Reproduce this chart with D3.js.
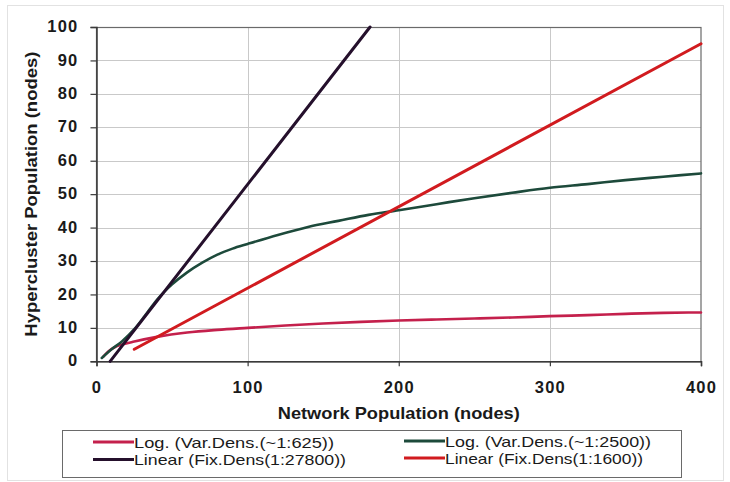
<!DOCTYPE html>
<html>
<head>
<meta charset="utf-8">
<script src="https://cdn.jsdelivr.net/npm/d3@7"></script>
<style>
  html, body { margin: 0; padding: 0; background: #ffffff; }
  svg { display: block; }
</style>
</head>
<body>
<svg id="chart" width="730" height="482"></svg>
<script>
// ---- data ----
const xTicks = [0, 100, 200, 300, 400];
const yTicks = [0, 10, 20, 30, 40, 50, 60, 70, 80, 90, 100];

const seriesNames = [
  "Log. (Var.Dens.(~1:625))",
  "Log. (Var.Dens.(~1:2500))",
  "Linear (Fix.Dens(1:27800))",
  "Linear (Fix.Dens(1:1600))"
];

const log625X = [4.5, 8, 12, 17, 25, 40, 60, 80, 100, 125, 150, 175, 200, 225, 250, 275, 300, 325, 350, 375, 400];
const log625Y = [1.4, 3.0, 4.2, 5.0, 5.9, 7.3, 8.6, 9.4, 10.0, 10.7, 11.3, 11.8, 12.2, 12.5, 12.8, 13.1, 13.5, 13.8, 14.2, 14.5, 14.6];

const log2500X = [3.5, 10, 17, 25, 32, 40, 50, 60, 70, 80, 90, 100, 120, 140, 160, 180, 200, 225, 250, 275, 300, 325, 350, 375, 400];
const log2500Y = [1.0, 3.6, 6.0, 9.6, 13.6, 18.4, 23.0, 26.6, 29.5, 31.9, 33.7, 35.1, 37.8, 40.2, 42.0, 43.8, 45.2, 47.0, 48.8, 50.4, 51.9, 53.0, 54.2, 55.2, 56.2];

const lin27800X = [9, 181];
const lin27800Y = [0, 100];

const lin1600X = [25, 400];
const lin1600Y = [3.6, 95];

// ---- layout / style ----
const colors = ["#c4204c", "#1d4a3b", "#25102c", "#d11b1f"];
const widths = [2.6, 2.6, 3, 3];
const plot = { left: 96.5, right: 701, top: 27, bottom: 361.3 };

const svg = d3.select("#chart");
const x = d3.scaleLinear().domain([0, 400]).range([plot.left, plot.right]);
const y = d3.scaleLinear().domain([0, 100]).range([plot.bottom, plot.top]);

// outer faint chart frame
svg.append("rect").attr("x", 7.5).attr("y", 5.5).attr("width", 716).attr("height", 475)
  .attr("fill", "none").attr("stroke", "#e2e2e2").attr("stroke-width", 1);

// gridlines
const grid = svg.append("g");
grid.selectAll("line.h").data(yTicks.filter(d => d > 0 && d < 100)).enter().append("line")
  .attr("x1", plot.left).attr("x2", plot.right)
  .attr("y1", d => Math.round(y(d)) + 0.5).attr("y2", d => Math.round(y(d)) + 0.5)
  .attr("stroke", "#c9c9c9").attr("stroke-width", 1);
grid.selectAll("line.v").data(xTicks.filter(d => d > 0 && d < 400)).enter().append("line")
  .attr("y1", plot.top).attr("y2", plot.bottom)
  .attr("x1", d => Math.round(x(d)) + 0.5).attr("x2", d => Math.round(x(d)) + 0.5)
  .attr("stroke", "#c9c9c9").attr("stroke-width", 1);

// plot frame (top/right)
svg.append("rect").attr("x", plot.left).attr("y", plot.top + 0.5)
  .attr("width", plot.right - plot.left).attr("height", plot.bottom - plot.top)
  .attr("fill", "none").attr("stroke", "#6a6a6a").attr("stroke-width", 1.2);

// axes
const yAxis = d3.axisLeft(y).tickValues(yTicks).tickSize(6).tickPadding(12);
const xAxis = d3.axisBottom(x).tickValues(xTicks).tickSize(5).tickPadding(15);

const gy = svg.append("g").attr("transform", `translate(${plot.left},0)`).call(yAxis);
const gx = svg.append("g").attr("transform", `translate(0,${plot.bottom})`).call(xAxis);
[gx, gy].forEach(g => {
  g.select(".domain").attr("stroke", "#3a3a3a").attr("stroke-width", 1.5);
  g.selectAll(".tick line").attr("stroke", "#3a3a3a").attr("stroke-width", 1.2);
  g.selectAll(".tick text")
    .attr("font-family", "'Liberation Sans', Arial, sans-serif")
    .attr("font-weight", "bold").attr("font-size", 16.5)
    .attr("letter-spacing", 1.2).attr("fill", "#1a1a1a");
});
gy.selectAll(".tick text").attr("dy", "0.28em");

// axis titles
svg.append("text").attr("x", (plot.left + plot.right) / 2).attr("y", 419)
  .attr("text-anchor", "middle")
  .attr("font-family", "'Liberation Sans', Arial, sans-serif")
  .attr("font-weight", "bold").attr("font-size", 16.5).attr("fill", "#1a1a1a")
  .attr("textLength", 242).attr("lengthAdjust", "spacingAndGlyphs")
  .text("Network Population (nodes)");

svg.append("text").attr("transform", `translate(37,${(plot.top + plot.bottom) / 2}) rotate(-90)`)
  .attr("text-anchor", "middle")
  .attr("font-family", "'Liberation Sans', Arial, sans-serif")
  .attr("font-weight", "bold").attr("font-size", 16.5).attr("fill", "#1a1a1a")
  .attr("textLength", 285).attr("lengthAdjust", "spacingAndGlyphs")
  .text("Hypercluster Population (nodes)");

// series lines
const seriesData = [
  d3.zip(log625X, log625Y),
  d3.zip(log2500X, log2500Y),
  d3.zip(lin27800X, lin27800Y),
  d3.zip(lin1600X, lin1600Y)
];
const line = d3.line().x(d => x(d[0])).y(d => y(d[1])).curve(d3.curveMonotoneX);

svg.append("clipPath").attr("id", "plotclip").append("rect")
  .attr("x", plot.left - 4).attr("y", plot.top - 2)
  .attr("width", plot.right - plot.left + 8).attr("height", plot.bottom - plot.top + 4);

const drawOrder = [0, 1, 3, 2];
svg.append("g").attr("clip-path", "url(#plotclip)")
  .selectAll("path").data(drawOrder).enter().append("path")
  .attr("d", i => line(seriesData[i]))
  .attr("fill", "none")
  .attr("stroke", i => colors[i])
  .attr("stroke-width", i => widths[i])
  .attr("stroke-linejoin", "round").attr("stroke-linecap", "round");

// legend
const legend = svg.append("g");
legend.append("rect").attr("x", 62.5).attr("y", 430.5).attr("width", 619).attr("height", 47)
  .attr("fill", "#ffffff").attr("stroke", "#6a6a6a").attr("stroke-width", 1);

const legPos = [
  { lx: 93, ty: 442, tw: 200 },
  { lx: 404, ty: 441, tw: 206 },
  { lx: 93, ty: 459.5, tw: 212 },
  { lx: 404, ty: 458, tw: 198 }
];
seriesNames.forEach((name, i) => {
  const p = legPos[i];
  legend.append("line").attr("x1", p.lx).attr("x2", p.lx + 41)
    .attr("y1", p.ty).attr("y2", p.ty)
    .attr("stroke", colors[i]).attr("stroke-width", 3);
  legend.append("text").attr("x", p.lx + 41).attr("y", p.ty + 5.5)
    .attr("font-family", "'Liberation Sans', Arial, sans-serif")
    .attr("font-size", 15).attr("fill", "#1a1a1a")
    .attr("textLength", p.tw).attr("lengthAdjust", "spacingAndGlyphs")
    .text(name);
});
</script>
</body>
</html>
